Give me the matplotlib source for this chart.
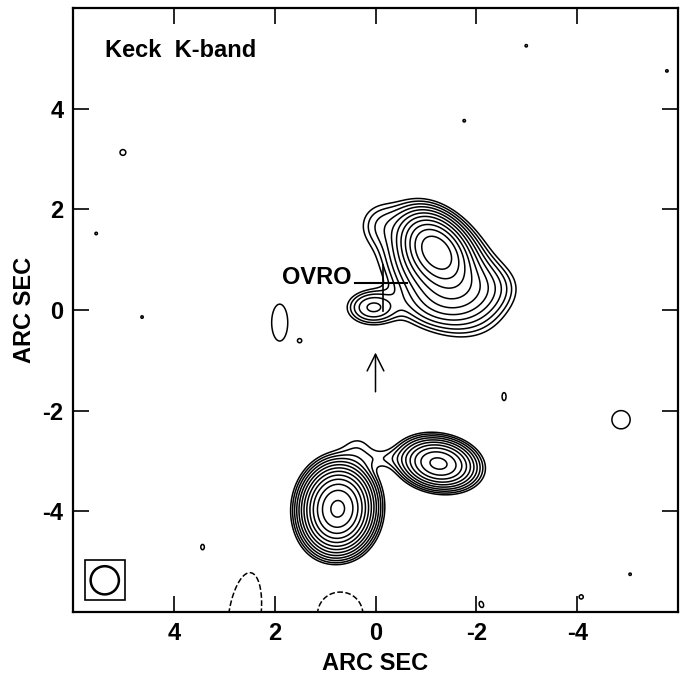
import numpy as np
import matplotlib
matplotlib.use("Agg")
import matplotlib.pyplot as plt
from matplotlib.patches import Rectangle, Circle

plt.rcParams["font.family"] = ["Liberation Sans", "DejaVu Sans"]
plt.rcParams["font.weight"] = "bold"

# ---------------------------------------------------------------------------
# Source model (offsets in arcsec, amplitudes in units of the noise level)
# components: x, y, peak, major sigma, minor sigma, angle of major axis (deg)
# ---------------------------------------------------------------------------
comp_x = [-1.20, -1.30, -2.05, -0.10, -1.25, 0.05,
          0.75, -1.25, -0.15, 0.35]
comp_y = [1.20, 0.75, 0.45, 1.70, 0.10, 0.05,
          -3.95, -3.05, -2.95, -2.70]
comp_amp = [70, 25, 5, 3, 4, 8.5,
            140, 50, 2.0, 2.0]
comp_sa = [0.40, 0.65, 0.45, 0.30, 0.50, 0.30,
           0.39, 0.37, 0.35, 0.25]
comp_sb = [0.28, 0.45, 0.30, 0.30, 0.28, 0.20,
           0.32, 0.24, 0.15, 0.20]
comp_pa = [50, 45, 0, 0, 0, 0,
           95, 10, 0, 0]

# isolated noise peaks / troughs
noise_x = [5.01, 5.54, 4.63, 1.90, 1.50, -1.76, -2.99, -5.78,
           -2.55, -4.87, 3.43, -5.05, -2.10, -4.08, 2.60, 0.70]
noise_y = [3.13, 1.52, -0.14, -0.25, -0.61, 3.76, 5.25, 4.75,
           -1.72, -2.18, -4.71, -5.25, -5.85, -5.70, -6.10, -6.05]
noise_amp = [2.6, 2.3, 2.3, 2.6, 2.3, 2.3, 2.3, 2.3,
             2.5, 2.6, 2.4, 2.3, 2.4, 2.4, -3.5, -3.0]
noise_s = [0.08, 0.05, 0.05, 0.22, 0.05, 0.05, 0.05, 0.05,
           0.06, 0.25, 0.06, 0.05, 0.07, 0.07, 0.30, 0.50]
noise_elong = [1.0, 1.0, 1.0, 2.3, 1.0, 1.0, 1.0, 1.0,
               2.0, 1.0, 1.5, 1.0, 1.5, 1.0, 2.8, 1.0]
noise_pa = [0, 0, 0, 90, 0, 0, 0, 0,
            90, 0, 90, 0, 70, 0, 98, 0]

levels_neg = [-2]
levels_pos = [2, 2.83, 4, 5.66, 8, 11.3, 16, 22.6, 32, 45, 64, 90, 128]

ticks = [-4, -2, 0, 2, 4]
beam_fwhm = 0.56
beam_pos = (5.37, -5.37)
box_size = 0.8

arrow_tail = (0.0, -1.68)
arrow_tip = (0.0, -0.79)
ovro_text = (0.47, 0.65)
ovro_hline = ([0.40, -0.63], [0.53, 0.53])
ovro_vline = ([-0.14, -0.14], [0.89, -0.02])


def gauss(X, Y, x0, y0, amp, sa, sb, pa):
    t = np.deg2rad(pa)
    dx, dy = X - x0, Y - y0
    u = dx * np.cos(t) + dy * np.sin(t)
    v = -dx * np.sin(t) + dy * np.cos(t)
    return amp * np.exp(-0.5 * (u ** 2 / sa ** 2 + v ** 2 / sb ** 2))


g = np.linspace(-6.2, 6.2, 621)
X, Y = np.meshgrid(g, g)
Z = np.zeros_like(X)
for i in range(len(comp_x)):
    Z += gauss(X, Y, comp_x[i], comp_y[i], comp_amp[i],
               comp_sa[i], comp_sb[i], comp_pa[i])
for i in range(len(noise_x)):
    Z += gauss(X, Y, noise_x[i], noise_y[i], noise_amp[i],
               noise_s[i] * noise_elong[i], noise_s[i], noise_pa[i])

fig = plt.figure(figsize=(6.87, 6.79), dpi=100)
ax = fig.add_axes([73 / 687, 67 / 679, 605 / 687, 604 / 679])

ax.contour(X, Y, Z, levels=levels_pos, colors="black", linewidths=1.1)
ax.contour(X, Y, Z, levels=levels_neg, colors="black", linewidths=1.1,
           linestyles="dashed")

# beam
bx, by = beam_pos
ax.add_patch(Rectangle((bx - box_size / 2, by - box_size / 2), box_size, box_size,
                       fill=False, ec="black", lw=1.2))
ax.add_patch(Circle((bx, by), beam_fwhm / 2, fill=False, ec="black", lw=1.8))

# arrow and OVRO marker
ax.annotate("", xy=arrow_tip, xytext=arrow_tail,
            arrowprops=dict(arrowstyle="->", lw=1.1, color="black",
                            mutation_scale=30))
ax.plot(*ovro_hline, color="black", lw=1.5)
ax.plot(*ovro_vline, color="black", lw=1.2)
ax.text(*ovro_text, "OVRO", ha="right", va="center", fontsize=17,
        fontweight="bold")
ax.text(0.053, 0.93, "Keck  K-band", transform=ax.transAxes, ha="left",
        va="center", fontsize=17, fontweight="bold")

ax.set_xlim(6.0, -6.0)
ax.set_ylim(-6.0, 6.0)
ax.set_xticks(ticks)
ax.set_yticks(ticks)
ax.set_xticklabels([str(t) for t in ticks])
ax.set_yticklabels([str(t) for t in ticks])
ax.tick_params(direction="in", length=11.5, width=1.2, top=True, right=True,
               labelsize=17, pad=7)
for sp in ax.spines.values():
    sp.set_linewidth(1.6)
ax.set_xlabel("ARC SEC", fontsize=17, fontweight="bold")
ax.set_ylabel("ARC SEC", fontsize=17, fontweight="bold")
ax.xaxis.set_label_coords(0.5, -0.066)
ax.yaxis.set_label_coords(-0.061, 0.5)

fig.savefig("out.png", dpi=100)
